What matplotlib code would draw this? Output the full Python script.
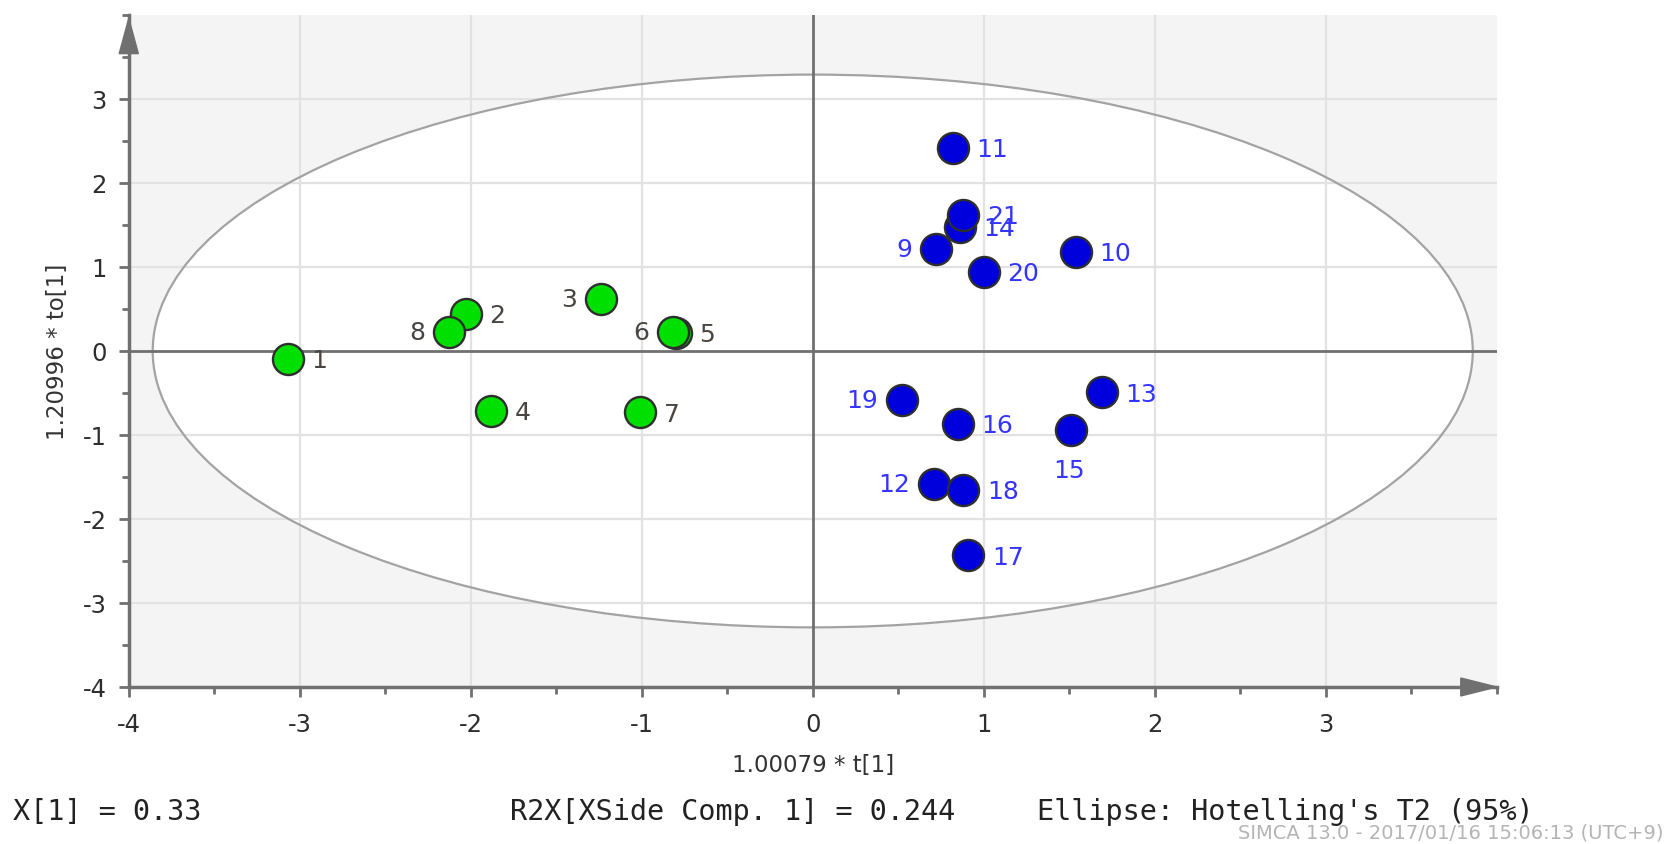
"""SIMCA-style OPLS score plot (t[1] vs to[1]) with Hotelling T2 ellipse."""

import matplotlib
matplotlib.use('Agg')
import matplotlib.pyplot as plt
from matplotlib.patches import Ellipse, Polygon
from matplotlib.ticker import MultipleLocator

plt.rcParams['axes.unicode_minus'] = False
plt.rcParams['font.family'] = ['DejaVu Sans']

# Scores
obs_green = ['1', '2', '3', '4', '5', '6', '7', '8']
t_green = [-3.07, -2.03, -1.24, -1.88, -0.80, -0.82, -1.01, -2.13]
to_green = [-0.09, 0.44, 0.62, -0.71, 0.22, 0.23, -0.73, 0.23]

obs_blue = ['9', '10', '11', '12', '13', '14', '15', '16', '17', '18', '19', '20', '21']
t_blue = [0.72, 1.54, 0.82, 0.71, 1.69, 0.86, 1.51, 0.85, 0.91, 0.88, 0.52, 1.00, 0.88]
to_blue = [1.22, 1.18, 2.42, -1.58, -0.49, 1.48, -0.94, -0.87, -2.43, -1.65, -0.58, 0.94, 1.62]

# Hotelling's T2 (95%) ellipse semi-axes
t2_a = 3.86
t2_b = 3.29

# where each label sits relative to its point
side_green = ['r', 'r', 'l', 'r', 'r', 'l', 'r', 'l']
side_blue = ['l', 'r', 'r', 'l', 'r', 'r', 'b', 'r', 'r', 'r', 'l', 'r', 'r']

GREEN = '#00e000'
BLUE = '#0000dc'
EDGE = '#2e2e2e'
AXIS = '#707070'
GRID = '#e2e2e2'
OUTSIDE = '#f4f4f4'

fig = plt.figure(figsize=(16.68, 8.45), dpi=100)
fig.patch.set_facecolor('white')
ax = fig.add_axes([0.0772, 0.1858, 0.8201, 0.7953])
ax.set_xlim(-4, 4)
ax.set_ylim(-4, 4)
ax.set_facecolor(OUTSIDE)
ax.set_axisbelow(True)

# ── ellipse: white inside, gray outside ──
ax.add_patch(Ellipse((0, 0), 2 * t2_a, 2 * t2_b, facecolor='white',
                     edgecolor='none', zorder=0))
ax.add_patch(Ellipse((0, 0), 2 * t2_a, 2 * t2_b, facecolor='none',
                     edgecolor='#a3a3a3', linewidth=1.6, zorder=1.5))

# grid
for v in [-3, -2, -1, 1, 2, 3]:
    ax.axvline(v, color=GRID, linewidth=1.6, zorder=0.6)
    ax.axhline(v, color=GRID, linewidth=1.6, zorder=0.6)

# origin lines
ax.axvline(0, color=AXIS, linewidth=2.0, zorder=1.8)
ax.axhline(0, color=AXIS, linewidth=2.0, zorder=1.8)

# spines / ticks
for s in ['top', 'right']:
    ax.spines[s].set_visible(False)
for s in ['left', 'bottom']:
    ax.spines[s].set_color(AXIS)
    ax.spines[s].set_linewidth(2.5)
ax.set_xticks(range(-4, 4))
ax.set_yticks(range(-4, 4))
ax.xaxis.set_minor_locator(MultipleLocator(0.5))
ax.yaxis.set_minor_locator(MultipleLocator(0.5))
ax.tick_params(which='major', length=7, width=2, color=AXIS,
               labelsize=17.5, labelcolor='#2e2e2e')
ax.tick_params(axis='x', which='major', pad=11)
ax.tick_params(axis='y', which='major', pad=9)
ax.tick_params(which='minor', length=5, width=2, color=AXIS)

# arrow heads on the axes
ax.add_patch(Polygon([(-4.056, 3.54), (-3.944, 3.54), (-4, 3.96)], closed=True,
                     facecolor=AXIS, edgecolor=AXIS, clip_on=False, zorder=6))
ax.add_patch(Polygon([(3.79, -3.893), (3.79, -4.107), (4.0, -4)], closed=True,
                     facecolor=AXIS, edgecolor=AXIS, clip_on=False, zorder=6))

ax.set_xlabel('1.00079 * t[1]', fontsize=16.5, color='#333333', labelpad=12)
ax.set_ylabel('1.20996 * to[1]', fontsize=16.5, color='#333333', labelpad=10)

# ── points ──
ax.scatter(t_green, to_green, s=500, c=GREEN, edgecolors=EDGE,
           linewidths=1.7, zorder=5)
ax.scatter(t_blue, to_blue, s=500, c=BLUE, edgecolors=EDGE,
           linewidths=1.7, zorder=5)

OFFS = {'r': ((17, -1), 'left', 'center'),
        'l': ((-17, 0), 'right', 'center'),
        'b': ((-1, -29), 'center', 'center')}


def label_points(names, xs, ys, sides, color):
    for name, x, y, sd in zip(names, xs, ys, sides):
        off, ha, va = OFFS[sd]
        ax.annotate(name, (x, y), xytext=off, textcoords='offset points',
                    ha=ha, va=va, fontsize=18, color=color, zorder=6)


label_points(obs_green, t_green, to_green, side_green, '#4a4540')
label_points(obs_blue, t_blue, to_blue, side_blue, '#3434ff')

# ── footer ──
mono = dict(fontsize=20.5, family='DejaVu Sans Mono', color='#222222',
            va='center', ha='left')
fig.text(13 / 1668, 1 - 812 / 845, 'X[1] = 0.33', **mono)
fig.text(510 / 1668, 1 - 812 / 845, 'R2X[XSide Comp. 1] = 0.244', **mono)
fig.text(1037 / 1668, 1 - 812 / 845, "Ellipse: Hotelling's T2 (95%)", **mono)
fig.text(1664 / 1668, 1 - 833 / 845, 'SIMCA 13.0 - 2017/01/16 15:06:13 (UTC+9)',
         fontsize=14, color='#b4b4b4', ha='right', va='center')

fig.savefig('out.png', dpi=100, facecolor='white')
